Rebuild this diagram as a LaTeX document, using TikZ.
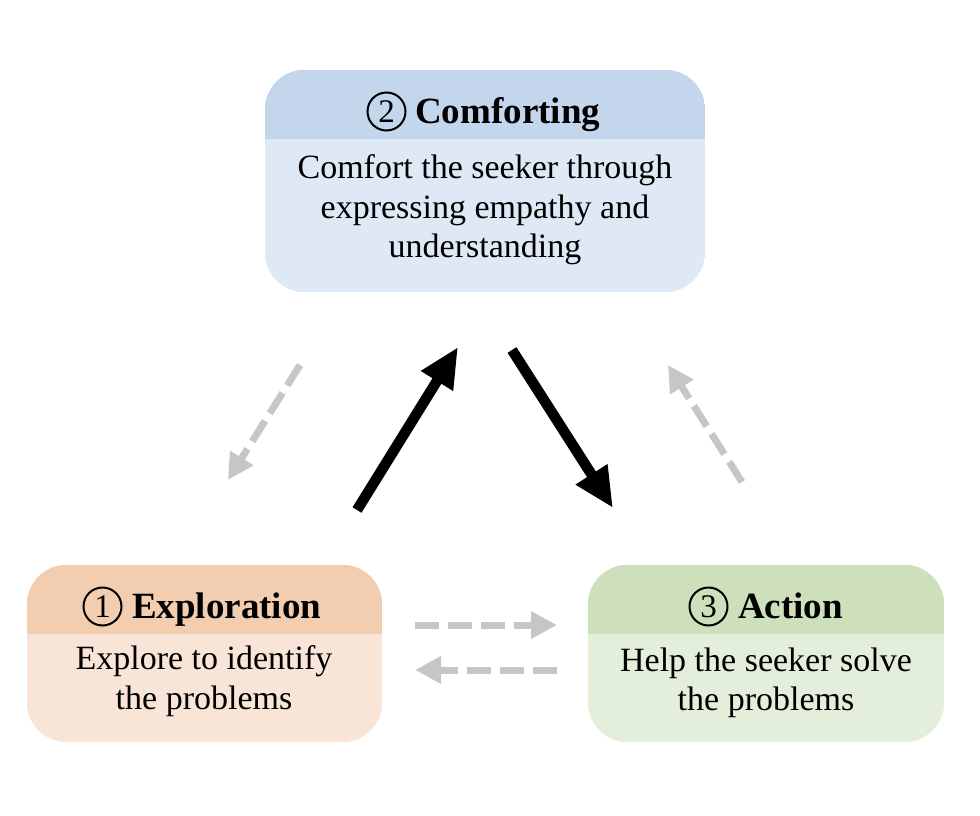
\documentclass[tikz,border=0pt]{standalone}
\usepackage{fontspec}
\setmainfont{Liberation Serif}
\usetikzlibrary{arrows.meta}
\definecolor{blueH}{HTML}{C3D6EB}
\definecolor{blueB}{HTML}{DFE9F5}
\definecolor{orangeH}{HTML}{F2CDB0}
\definecolor{orangeB}{HTML}{F9E5D8}
\definecolor{greenH}{HTML}{CDE0BB}
\definecolor{greenB}{HTML}{E3EFDA}
\definecolor{dashgray}{HTML}{C6C6C6}
\tikzset{
  card/.style={draw=none, inner sep=0pt, minimum width=#1},
  titletext/.style={font=\fontsize{37}{42}\selectfont\bfseries, inner sep=0pt, anchor=base west},
  digit/.style={circle, draw=black, line width=2pt, inner sep=0pt, minimum size=38pt, font=\fontsize{33}{33}\selectfont},
  bodytext/.style={font=\fontsize{34}{39.5}\selectfont, align=center, inner sep=0pt},
  strong/.style={line width=10.5pt, black, -{Triangle[length=40pt,width=35pt]}},
  weak/.style={line width=7pt, dashgray, dash pattern=on 24pt off 9pt, -{Triangle[length=26pt,width=26pt]}},
}
\newcommand\paintcard[4]{%
  \begin{scope}
    \clip[rounded corners=40pt] (#1.south west) rectangle (#1.north east);
    \fill[#4] (#1.south west) rectangle (#1.north east);
    \fill[#3] (#1.north west) rectangle ([yshift=-#2]#1.north east);
  \end{scope}}
\begin{document}
\begin{tikzpicture}[x=1pt,y=1pt]
\useasboundingbox (0,0) rectangle (980,-816);
\fill[white] (0,0) rectangle (980,-816);
% cards
\node[card=440pt, minimum height=222pt] (comf) at (485,-181) {};
\paintcard{comf}{69pt}{blueH}{blueB}
\node[card=355pt, minimum height=177pt] (expl) at (204.5,-653.5) {};
\paintcard{expl}{69pt}{orangeH}{orangeB}
\node[card=356pt, minimum height=177pt] (act) at (766,-653.5) {};
\paintcard{act}{69pt}{greenH}{greenB}
% titles
\node[digit] (comfD) at (386.5,-111.5) {2};
\node[titletext] (comfT) at (415,-123) {Comforting};
\node[digit] (explD) at (102.5,-606.5) {1};
\node[titletext] (explT) at (132,-618) {Exploration};
\node[digit] (actD) at (708.5,-606.5) {3};
\node[titletext] (actT) at (738,-618) {Action};
% bodies
\node[bodytext] (comfB) at (485,-210) {Comfort the seeker through\\expressing empathy and\\understanding};
\node[bodytext] (explB) at (204,-681) {Explore to identify\\the problems};
\node[bodytext] (actB) at (766,-683) {Help the seeker solve\\the problems};
% arrow ends
\coordinate (u1) at (357,-510);
\coordinate (u2) at (458,-347);
\coordinate (d1) at (512,-350);
\coordinate (d2) at (613,-508);
\coordinate (gl1) at (300,-365);
\coordinate (gl2) at (228,-480);
\coordinate (gr1) at (742,-482);
\coordinate (gr2) at (668,-365);
\coordinate (h1) at (415,-625);
\coordinate (h2) at (557,-625);
\coordinate (h3) at (557,-670);
\coordinate (h4) at (415,-670);
\draw[strong] (u1) -- (u2);
\draw[strong] (d1) -- (d2);
\draw[weak] (gl1) -- (gl2);
\draw[weak] (gr1) -- (gr2);
\draw[weak] (h1) -- (h2);
\draw[weak] (h3) -- (h4);
\end{tikzpicture}
\end{document}
